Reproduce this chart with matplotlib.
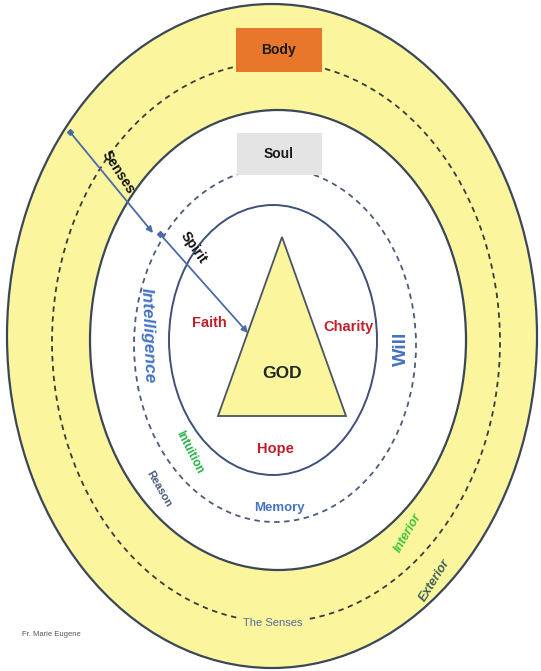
import matplotlib.pyplot as plt
from matplotlib.patches import Ellipse, Polygon, Rectangle

plt.rcParams['font.family'] = ['Liberation Sans Narrow', 'Liberation Sans', 'DejaVu Sans']

# rings from outside to inside (pixel space of the original picture)
ring_names = ["body_outer", "senses_line", "body_inner", "soul_line", "spirit"]
ring_cx = [272, 276, 278, 275, 273]
ring_cy = [336, 342, 340, 345, 340]
ring_rx = [265, 224, 188, 141, 104]
ring_ry = [332, 280, 230, 177, 135]

# labels
box_labels = ["Body", "Soul"]
virtue_labels = ["Faith", "Charity", "Hope"]
faculty_labels = ["Intelligence", "Will", "Memory"]
side_labels = ["Intuition", "Reason", "Interior", "Exterior"]
arrow_labels = ["Senses", "Spirit"]

YELLOW = "#fbf69e"
EDGE = "#3b4656"
RED = "#c01f2c"
BLUE = "#4472c4"

fig = plt.figure(figsize=(5.41, 6.71), dpi=100)
ax = fig.add_axes([0, 0, 1, 1])
ax.set_xlim(0, 541)
ax.set_ylim(671, 0)
ax.axis("off")

# body band
ax.add_patch(Ellipse((ring_cx[0], ring_cy[0]), 2 * ring_rx[0], 2 * ring_ry[0],
                     facecolor=YELLOW, edgecolor=EDGE, lw=1.6, zorder=1))
ax.add_patch(Ellipse((ring_cx[1], ring_cy[1]), 2 * ring_rx[1], 2 * ring_ry[1],
                     facecolor="none", edgecolor="#3a3a3a", lw=1.3,
                     linestyle=(0, (3, 2.5)), zorder=2))
ax.add_patch(Ellipse((ring_cx[2], ring_cy[2]), 2 * ring_rx[2], 2 * ring_ry[2],
                     facecolor="white", edgecolor=EDGE, lw=1.6, zorder=3))
ax.add_patch(Ellipse((ring_cx[3], ring_cy[3]), 2 * ring_rx[3], 2 * ring_ry[3],
                     facecolor="none", edgecolor="#4b5b7c", lw=1.3,
                     linestyle=(0, (3, 2.5)), zorder=4))
ax.add_patch(Ellipse((ring_cx[4], ring_cy[4]), 2 * ring_rx[4], 2 * ring_ry[4],
                     facecolor="white", edgecolor="#3f5078", lw=1.4, zorder=5))

# God triangle
ax.add_patch(Polygon([(282, 237), (218, 416), (346, 416)], closed=True,
                     facecolor=YELLOW, edgecolor="#4a5560", lw=1.3, zorder=6))
ax.text(282, 374, "GOD", fontsize=12.5, fontweight="bold", color="#1e2626",
        ha="center", va="center", zorder=10)

# Body / Soul boxes
ax.add_patch(Rectangle((236, 28), 86, 44, facecolor="#e9772b", edgecolor="none", zorder=7))
ax.text(279, 50, box_labels[0], fontsize=10, fontweight="bold", color="#1a1a1a",
        ha="center", va="center", zorder=10)
ax.add_patch(Rectangle((237, 133), 85, 42, facecolor="#e4e4e4", edgecolor="none", zorder=7))
ax.text(279, 154, box_labels[1], fontsize=10, fontweight="bold", color="#1a1a1a",
        ha="center", va="center", zorder=10)

# arrows
arrow_starts = [(70, 132), (160, 234)]
arrow_ends = [(153, 233), (248, 333)]
for s, e in zip(arrow_starts, arrow_ends):
    ax.annotate("", xy=e, xytext=s, zorder=9,
                arrowprops=dict(arrowstyle="-|>", color="#4a6aa8", lw=1.3,
                                mutation_scale=9, shrinkA=0, shrinkB=0))
    ax.plot(*s, marker="D", ms=3, color="#4a6aa8", zorder=9)

arrow_text_pos = [(118, 172), (194, 248)]
arrow_text_rot = [-57, -55]
for lab, (x, y), r in zip(arrow_labels, arrow_text_pos, arrow_text_rot):
    ax.text(x, y, lab, fontsize=10, fontweight="bold", color="#111111",
            rotation=r, rotation_mode="anchor", ha="center", va="center", zorder=10)

# virtues
virtue_pos = [(209, 323), (349, 327), (275, 449)]
for lab, (x, y) in zip(virtue_labels, virtue_pos):
    ax.text(x, y, lab, fontsize=10.5, fontweight="bold", color=RED,
            ha="center", va="center", zorder=10)

# faculties
faculty_pos = [(148, 336), (401, 349), (279, 508)]
faculty_rot = [-88, 90, 0]
faculty_style = ["italic", "normal", "normal"]
faculty_size = [12.5, 14, 9.5]
for lab, (x, y), r, st, fs in zip(faculty_labels, faculty_pos, faculty_rot,
                                  faculty_style, faculty_size):
    ax.text(x, y, lab, fontsize=fs, fontweight="bold", fontstyle=st, color=BLUE,
            rotation=r, rotation_mode="anchor", ha="center", va="center", zorder=10)

side_pos = [(189, 452), (159, 489), (408, 533), (435, 580)]
side_rot = [-63, -60, 60, 58]
side_size = [8.5, 8, 9, 9]
side_color = ["#27b24a", "#4a5a78", "#3cc43c", "#3d5f58"]
side_style = ["normal", "normal", "italic", "italic"]
for lab, (x, y), r, fs, c, st in zip(side_labels, side_pos, side_rot, side_size,
                                     side_color, side_style):
    ax.text(x, y, lab, fontsize=fs, fontweight="bold", color=c, fontstyle=st,
            rotation=r, rotation_mode="anchor", ha="center", va="center", zorder=10)

ax.text(273, 623, "The Senses", fontsize=8, color="#4d6c9a", ha="center", va="center",
        zorder=10, bbox=dict(facecolor=YELLOW, edgecolor="none", pad=3))

ax.text(51, 635, "Fr. Marie Eugene", fontsize=5.5, color="#555555",
        ha="center", va="center")

fig.savefig("out.png", dpi=100)
